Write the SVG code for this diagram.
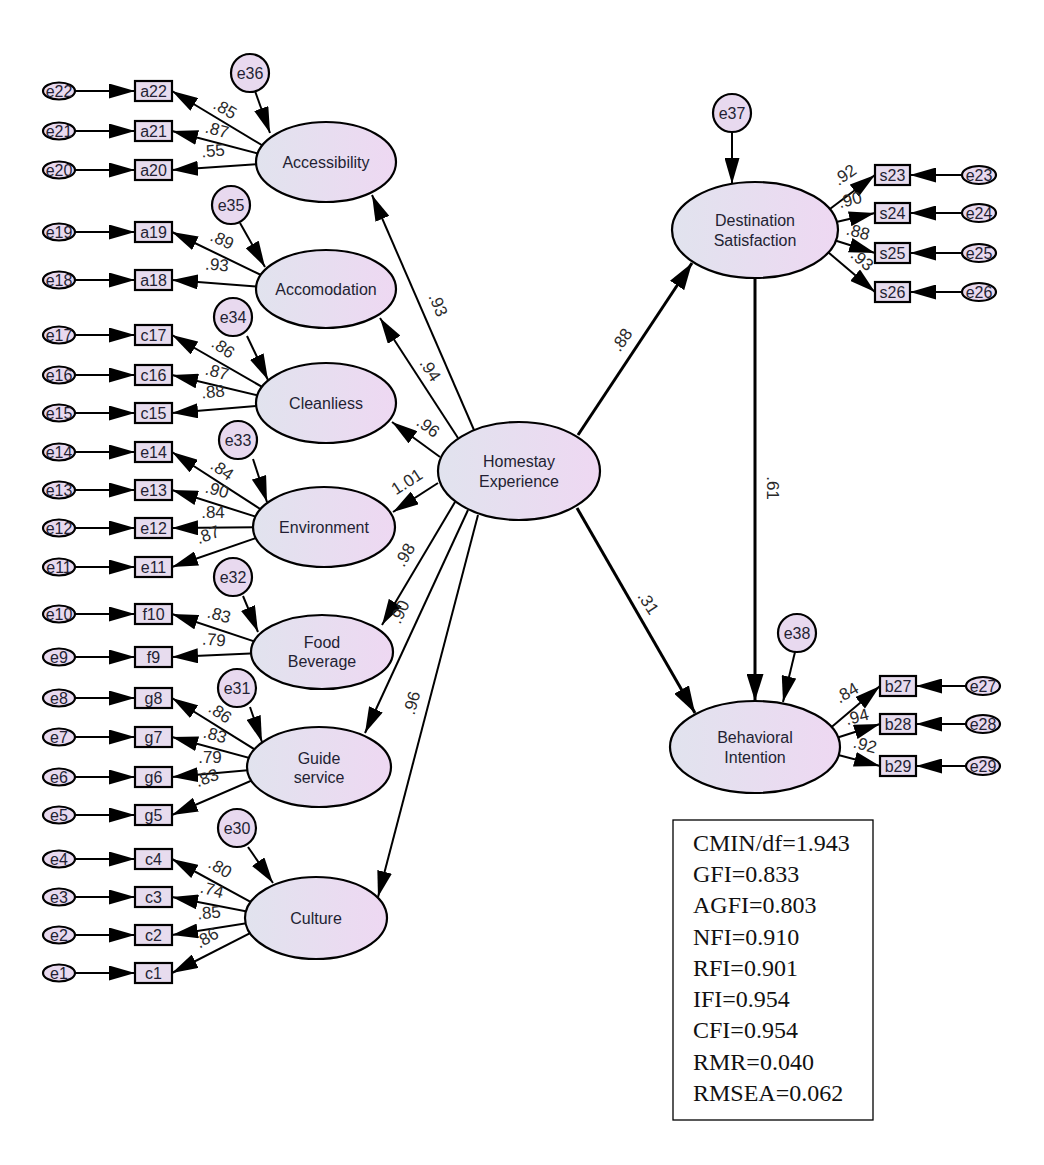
<svg xmlns="http://www.w3.org/2000/svg" width="1044" height="1165" viewBox="0 0 1044 1165">
<defs>
<linearGradient id="lg" x1="0" y1="0" x2="1" y2="0">
<stop offset="0" stop-color="#e1e3ee"/><stop offset="1" stop-color="#eed8f2"/>
</linearGradient>
<marker id="ah" markerUnits="userSpaceOnUse" markerWidth="26" markerHeight="15" refX="26" refY="7.5" orient="auto">
<path d="M0,0 L26,7.5 L0,15 Z" fill="#000"/>
</marker>
<marker id="ah2" markerUnits="userSpaceOnUse" markerWidth="27" markerHeight="17" refX="27" refY="8.5" orient="auto">
<path d="M0,0 L27,8.5 L0,17 Z" fill="#000"/>
</marker>
<style>
.c{fill:none;stroke:#000;stroke-width:2;marker-end:url(#ah)}
.t{fill:none;stroke:#000;stroke-width:3;marker-end:url(#ah2)}
.lat{fill:url(#lg);stroke:#000;stroke-width:2.2}
.box{fill:#e7dcee;stroke:#000;stroke-width:2.2}
.err{fill:#e8d9ef;stroke:#000;stroke-width:2.2}
text{font-family:"Liberation Sans",Arial,sans-serif;font-size:16px;fill:#231f33;text-anchor:middle;dominant-baseline:central}
.lb text{font-size:17px;fill:#2a2a2a}
.st{font-family:"Liberation Serif","Times New Roman",serif;font-size:24px;fill:#111;text-anchor:start;dominant-baseline:auto}
</style>
</defs>
<rect width="1044" height="1165" fill="#fff"/>

<g id="connectors">
<path class="c" d="M75,91 H135"/><path class="c" d="M75,131 H135"/><path class="c" d="M75,170 H135"/>
<path class="c" d="M75,232 H135"/><path class="c" d="M75,280 H135"/>
<path class="c" d="M75,335 H135"/><path class="c" d="M75,375 H135"/><path class="c" d="M75,413 H135"/>
<path class="c" d="M75,452 H135"/><path class="c" d="M75,490 H135"/><path class="c" d="M75,528 H135"/><path class="c" d="M75,567 H135"/>
<path class="c" d="M75,614 H135"/><path class="c" d="M75,657 H135"/>
<path class="c" d="M75,698 H135"/><path class="c" d="M75,737 H135"/><path class="c" d="M75,777 H135"/><path class="c" d="M75,815 H135"/>
<path class="c" d="M75,859 H135"/><path class="c" d="M75,897 H135"/><path class="c" d="M75,935 H135"/><path class="c" d="M75,973 H135"/>
<path class="c" d="M290,162 L172,91"/><path class="c" d="M290,162 L172,131"/><path class="c" d="M290,162 L172,170"/>
<path class="c" d="M290,289 L172,232"/><path class="c" d="M290,289 L172,280"/>
<path class="c" d="M290,403 L172,335"/><path class="c" d="M290,403 L172,375"/><path class="c" d="M290,403 L172,413"/>
<path class="c" d="M288,527 L172,452"/><path class="c" d="M288,527 L172,490"/><path class="c" d="M288,527 L172,528"/><path class="c" d="M288,527 L172,567"/>
<path class="c" d="M286,652 L172,614"/><path class="c" d="M286,652 L172,657"/>
<path class="c" d="M283,767 L172,698"/><path class="c" d="M283,767 L172,737"/><path class="c" d="M283,767 L172,777"/><path class="c" d="M283,767 L172,815"/>
<path class="c" d="M280,918 L172,859"/><path class="c" d="M280,918 L172,897"/><path class="c" d="M280,918 L172,935"/><path class="c" d="M280,918 L172,973"/>
<path class="c" d="M255,91 L270,133"/>
<path class="c" d="M240,223 L265,267"/>
<path class="c" d="M247,336 L268,380"/>
<path class="c" d="M253,459 L267,502"/>
<path class="c" d="M243,596 L258,632"/>
<path class="c" d="M250,707 L262,742"/>
<path class="c" d="M248,847 L273,883"/>
<path class="c" d="M732,133 L732,184"/>
<path class="c" d="M795,652 L783,702"/>
<path class="c" d="M474,430 L372,195"/>
<path class="c" d="M458,438 L380,318"/>
<path class="c" d="M440,457 L392,422"/>
<path class="c" d="M438,483 L393,512"/>
<path class="c" d="M455,502 L382,625"/>
<path class="c" d="M468,510 L365,733"/>
<path class="c" d="M478,515 L378,897"/>
<path class="t" d="M578,435 L692,263"/>
<path class="t" d="M577,508 L695,713"/>
<path class="t" d="M755,278 L755,701"/>
<path class="c" d="M802,230 L875,175"/><path class="c" d="M802,230 L875,213"/><path class="c" d="M802,230 L875,253"/><path class="c" d="M802,230 L875,292"/>
<path class="c" d="M962,175 H910"/><path class="c" d="M962,213 H910"/><path class="c" d="M962,253 H910"/><path class="c" d="M962,292 H910"/>
<path class="c" d="M808,747 L880,686"/><path class="c" d="M808,747 L880,724"/><path class="c" d="M808,747 L880,766"/>
<path class="c" d="M966,686 H916"/><path class="c" d="M966,724 H916"/><path class="c" d="M966,766 H916"/>
</g>

<g id="labels" class="lb">
<text transform="rotate(30 225 109)" x="225" y="109">.85</text>
<text transform="rotate(15 217 130)" x="217" y="130">.87</text>
<text transform="rotate(-5 213 151)" x="213" y="151">.55</text>
<text transform="rotate(25 222 240)" x="222" y="240">.89</text>
<text transform="rotate(5 217 265)" x="217" y="265">.93</text>
<text transform="rotate(35 223 348)" x="223" y="348">.86</text>
<text transform="rotate(15 217 372)" x="217" y="372">.87</text>
<text transform="rotate(-5 213 392)" x="213" y="392">.88</text>
<text transform="rotate(35 222 470)" x="222" y="470">.84</text>
<text transform="rotate(15 217 490)" x="217" y="490">.90</text>
<text x="213" y="512">.84</text>
<text transform="rotate(-20 208 535)" x="208" y="535">.87</text>
<text transform="rotate(15 219 615)" x="219" y="615">.83</text>
<text transform="rotate(5 214 640)" x="214" y="640">.79</text>
<text transform="rotate(35 220 713)" x="220" y="713">.86</text>
<text transform="rotate(15 215 735)" x="215" y="735">.83</text>
<text x="210" y="757">.79</text>
<text transform="rotate(-20 207 778)" x="207" y="778">.83</text>
<text transform="rotate(30 220 868)" x="220" y="868">.80</text>
<text transform="rotate(15 212 890)" x="212" y="890">.74</text>
<text transform="rotate(-5 209 913)" x="209" y="913">.85</text>
<text transform="rotate(-30 207 938)" x="207" y="938">.86</text>
<text transform="rotate(-35 845 175)" x="845" y="175">.92</text>
<text transform="rotate(-15 850 200)" x="850" y="200">.90</text>
<text transform="rotate(15 858 232)" x="858" y="232">.88</text>
<text transform="rotate(40 862 260)" x="862" y="260">.93</text>
<text transform="rotate(-30 847 693)" x="847" y="693">.84</text>
<text transform="rotate(-15 857 717)" x="857" y="717">.94</text>
<text transform="rotate(15 865 745)" x="865" y="745">.92</text>
<text transform="rotate(67 438 305)" x="438" y="305">.93</text>
<text transform="rotate(57 430 370)" x="430" y="370">.94</text>
<text transform="rotate(-55 622 340)" x="622" y="340">.88</text>
<text transform="rotate(37 428 427)" x="428" y="427">.96</text>
<text transform="rotate(-33 407 482)" x="407" y="482">1.01</text>
<text transform="rotate(-60 405 555)" x="405" y="555">.98</text>
<text transform="rotate(-65 400 612)" x="400" y="612">.90</text>
<text transform="rotate(-75 412 703)" x="412" y="703">.96</text>
<text transform="rotate(57 648 603)" x="648" y="603">.31</text>
<text transform="rotate(90 772 488)" x="772" y="488">.61</text>
</g>

<g id="e22"><ellipse class="err" cx="59" cy="91" rx="16" ry="8.5"/><text x="59" y="91">e22</text></g>
<g id="e21"><ellipse class="err" cx="59" cy="131" rx="16" ry="8.5"/><text x="59" y="131">e21</text></g>
<g id="e20"><ellipse class="err" cx="59" cy="170" rx="16" ry="8.5"/><text x="59" y="170">e20</text></g>
<g id="e19"><ellipse class="err" cx="59" cy="232" rx="16" ry="8.5"/><text x="59" y="232">e19</text></g>
<g id="e18"><ellipse class="err" cx="59" cy="280" rx="16" ry="8.5"/><text x="59" y="280">e18</text></g>
<g id="e17"><ellipse class="err" cx="59" cy="335" rx="16" ry="8.5"/><text x="59" y="335">e17</text></g>
<g id="e16"><ellipse class="err" cx="59" cy="375" rx="16" ry="8.5"/><text x="59" y="375">e16</text></g>
<g id="e15"><ellipse class="err" cx="59" cy="413" rx="16" ry="8.5"/><text x="59" y="413">e15</text></g>
<g id="e14"><ellipse class="err" cx="59" cy="452" rx="16" ry="8.5"/><text x="59" y="452">e14</text></g>
<g id="e13"><ellipse class="err" cx="59" cy="490" rx="16" ry="8.5"/><text x="59" y="490">e13</text></g>
<g id="e12"><ellipse class="err" cx="59" cy="528" rx="16" ry="8.5"/><text x="59" y="528">e12</text></g>
<g id="e11"><ellipse class="err" cx="59" cy="567" rx="16" ry="8.5"/><text x="59" y="567">e11</text></g>
<g id="e10"><ellipse class="err" cx="59" cy="614" rx="16" ry="8.5"/><text x="59" y="614">e10</text></g>
<g id="e9"><ellipse class="err" cx="59" cy="657" rx="16" ry="8.5"/><text x="59" y="657">e9</text></g>
<g id="e8"><ellipse class="err" cx="59" cy="698" rx="16" ry="8.5"/><text x="59" y="698">e8</text></g>
<g id="e7"><ellipse class="err" cx="59" cy="737" rx="16" ry="8.5"/><text x="59" y="737">e7</text></g>
<g id="e6"><ellipse class="err" cx="59" cy="777" rx="16" ry="8.5"/><text x="59" y="777">e6</text></g>
<g id="e5"><ellipse class="err" cx="59" cy="815" rx="16" ry="8.5"/><text x="59" y="815">e5</text></g>
<g id="e4"><ellipse class="err" cx="59" cy="859" rx="16" ry="8.5"/><text x="59" y="859">e4</text></g>
<g id="e3"><ellipse class="err" cx="59" cy="897" rx="16" ry="8.5"/><text x="59" y="897">e3</text></g>
<g id="e2"><ellipse class="err" cx="59" cy="935" rx="16" ry="8.5"/><text x="59" y="935">e2</text></g>
<g id="e1"><ellipse class="err" cx="59" cy="973" rx="16" ry="8.5"/><text x="59" y="973">e1</text></g>

<g id="a22"><rect class="box" x="135" y="81" width="37" height="20"/><text x="153.5" y="91">a22</text></g>
<g id="a21"><rect class="box" x="135" y="121" width="37" height="20"/><text x="153.5" y="131">a21</text></g>
<g id="a20"><rect class="box" x="135" y="160" width="37" height="20"/><text x="153.5" y="170">a20</text></g>
<g id="a19"><rect class="box" x="135" y="222" width="37" height="20"/><text x="153.5" y="232">a19</text></g>
<g id="a18"><rect class="box" x="135" y="270" width="37" height="20"/><text x="153.5" y="280">a18</text></g>
<g id="c17"><rect class="box" x="135" y="325" width="37" height="20"/><text x="153.5" y="335">c17</text></g>
<g id="c16"><rect class="box" x="135" y="365" width="37" height="20"/><text x="153.5" y="375">c16</text></g>
<g id="c15"><rect class="box" x="135" y="403" width="37" height="20"/><text x="153.5" y="413">c15</text></g>
<g id="ind-e14"><rect class="box" x="135" y="442" width="37" height="20"/><text x="153.5" y="452">e14</text></g>
<g id="ind-e13"><rect class="box" x="135" y="480" width="37" height="20"/><text x="153.5" y="490">e13</text></g>
<g id="ind-e12"><rect class="box" x="135" y="518" width="37" height="20"/><text x="153.5" y="528">e12</text></g>
<g id="ind-e11"><rect class="box" x="135" y="557" width="37" height="20"/><text x="153.5" y="567">e11</text></g>
<g id="f10"><rect class="box" x="135" y="604" width="37" height="20"/><text x="153.5" y="614">f10</text></g>
<g id="f9"><rect class="box" x="135" y="647" width="37" height="20"/><text x="153.5" y="657">f9</text></g>
<g id="g8"><rect class="box" x="135" y="688" width="37" height="20"/><text x="153.5" y="698">g8</text></g>
<g id="g7"><rect class="box" x="135" y="727" width="37" height="20"/><text x="153.5" y="737">g7</text></g>
<g id="g6"><rect class="box" x="135" y="767" width="37" height="20"/><text x="153.5" y="777">g6</text></g>
<g id="g5"><rect class="box" x="135" y="805" width="37" height="20"/><text x="153.5" y="815">g5</text></g>
<g id="c4"><rect class="box" x="135" y="849" width="37" height="20"/><text x="153.5" y="859">c4</text></g>
<g id="c3"><rect class="box" x="135" y="887" width="37" height="20"/><text x="153.5" y="897">c3</text></g>
<g id="c2"><rect class="box" x="135" y="925" width="37" height="20"/><text x="153.5" y="935">c2</text></g>
<g id="c1"><rect class="box" x="135" y="963" width="37" height="20"/><text x="153.5" y="973">c1</text></g>

<g id="e36"><circle class="err" cx="250" cy="73" r="19"/><text x="250" y="73">e36</text></g>
<g id="e35"><circle class="err" cx="231" cy="205" r="19"/><text x="231" y="205">e35</text></g>
<g id="e34"><circle class="err" cx="233" cy="317" r="19"/><text x="233" y="317">e34</text></g>
<g id="e33"><circle class="err" cx="238" cy="440" r="19"/><text x="238" y="440">e33</text></g>
<g id="e32"><circle class="err" cx="233" cy="577" r="19"/><text x="233" y="577">e32</text></g>
<g id="e31"><circle class="err" cx="237" cy="688" r="19"/><text x="237" y="688">e31</text></g>
<g id="e30"><circle class="err" cx="237" cy="828" r="19"/><text x="237" y="828">e30</text></g>
<g id="e37"><circle class="err" cx="732" cy="113" r="19"/><text x="732" y="113">e37</text></g>
<g id="e38"><circle class="err" cx="797" cy="633" r="19"/><text x="797" y="633">e38</text></g>

<g id="accessibility"><ellipse class="lat" cx="326" cy="162" rx="70" ry="40"/><text x="326" y="162">Accessibility</text></g>
<g id="accomodation"><ellipse class="lat" cx="326" cy="289" rx="70" ry="39"/><text x="326" y="289">Accomodation</text></g>
<g id="cleanliess"><ellipse class="lat" cx="326" cy="403" rx="70" ry="40"/><text x="326" y="403">Cleanliess</text></g>
<g id="environment"><ellipse class="lat" cx="324" cy="527" rx="71" ry="40"/><text x="324" y="527">Environment</text></g>
<g id="food-beverage"><ellipse class="lat" cx="322" cy="652" rx="71" ry="37"/><text x="322" y="642">Food</text><text x="322" y="661">Beverage</text></g>
<g id="guide-service"><ellipse class="lat" cx="319" cy="767" rx="72" ry="40"/><text x="319" y="758">Guide</text><text x="319" y="777">service</text></g>
<g id="culture"><ellipse class="lat" cx="316" cy="918" rx="71" ry="41"/><text x="316" y="918">Culture</text></g>
<g id="homestay"><ellipse class="lat" cx="519" cy="471" rx="81" ry="49"/><text x="519" y="461">Homestay</text><text x="519" y="481">Experience</text></g>
<g id="destination"><ellipse class="lat" cx="755" cy="230" rx="83" ry="48"/><text x="755" y="220">Destination</text><text x="755" y="240">Satisfaction</text></g>
<g id="behavioral"><ellipse class="lat" cx="755" cy="747" rx="85" ry="46"/><text x="755" y="737">Behavioral</text><text x="755" y="757">Intention</text></g>

<g id="s23"><rect class="box" x="875" y="165" width="35" height="20"/><text x="892.5" y="175">s23</text></g>
<g id="s24"><rect class="box" x="875" y="203" width="35" height="20"/><text x="892.5" y="213">s24</text></g>
<g id="s25"><rect class="box" x="875" y="243" width="35" height="20"/><text x="892.5" y="253">s25</text></g>
<g id="s26"><rect class="box" x="875" y="282" width="35" height="20"/><text x="892.5" y="292">s26</text></g>
<g id="b27"><rect class="box" x="880" y="676" width="36" height="20"/><text x="898" y="686">b27</text></g>
<g id="b28"><rect class="box" x="880" y="714" width="36" height="20"/><text x="898" y="724">b28</text></g>
<g id="b29"><rect class="box" x="880" y="756" width="36" height="20"/><text x="898" y="766">b29</text></g>
<g id="e23"><ellipse class="err" cx="979" cy="175" rx="17" ry="9"/><text x="979" y="175">e23</text></g>
<g id="e24"><ellipse class="err" cx="979" cy="213" rx="17" ry="9"/><text x="979" y="213">e24</text></g>
<g id="e25"><ellipse class="err" cx="979" cy="253" rx="17" ry="9"/><text x="979" y="253">e25</text></g>
<g id="e26"><ellipse class="err" cx="979" cy="292" rx="17" ry="9"/><text x="979" y="292">e26</text></g>
<g id="e27"><ellipse class="err" cx="983" cy="686" rx="17" ry="9"/><text x="983" y="686">e27</text></g>
<g id="e28"><ellipse class="err" cx="983" cy="724" rx="17" ry="9"/><text x="983" y="724">e28</text></g>
<g id="e29"><ellipse class="err" cx="983" cy="766" rx="17" ry="9"/><text x="983" y="766">e29</text></g>

<g id="fit-box">
<rect x="673" y="820" width="200" height="300" fill="#fff" stroke="#000" stroke-width="1.3"/>
<text class="st" x="693" y="851">CMIN/df=1.943</text>
<text class="st" x="693" y="882">GFI=0.833</text>
<text class="st" x="693" y="913">AGFI=0.803</text>
<text class="st" x="693" y="945">NFI=0.910</text>
<text class="st" x="693" y="976">RFI=0.901</text>
<text class="st" x="693" y="1007">IFI=0.954</text>
<text class="st" x="693" y="1038">CFI=0.954</text>
<text class="st" x="693" y="1070">RMR=0.040</text>
<text class="st" x="693" y="1101">RMSEA=0.062</text>
</g>
</svg>
